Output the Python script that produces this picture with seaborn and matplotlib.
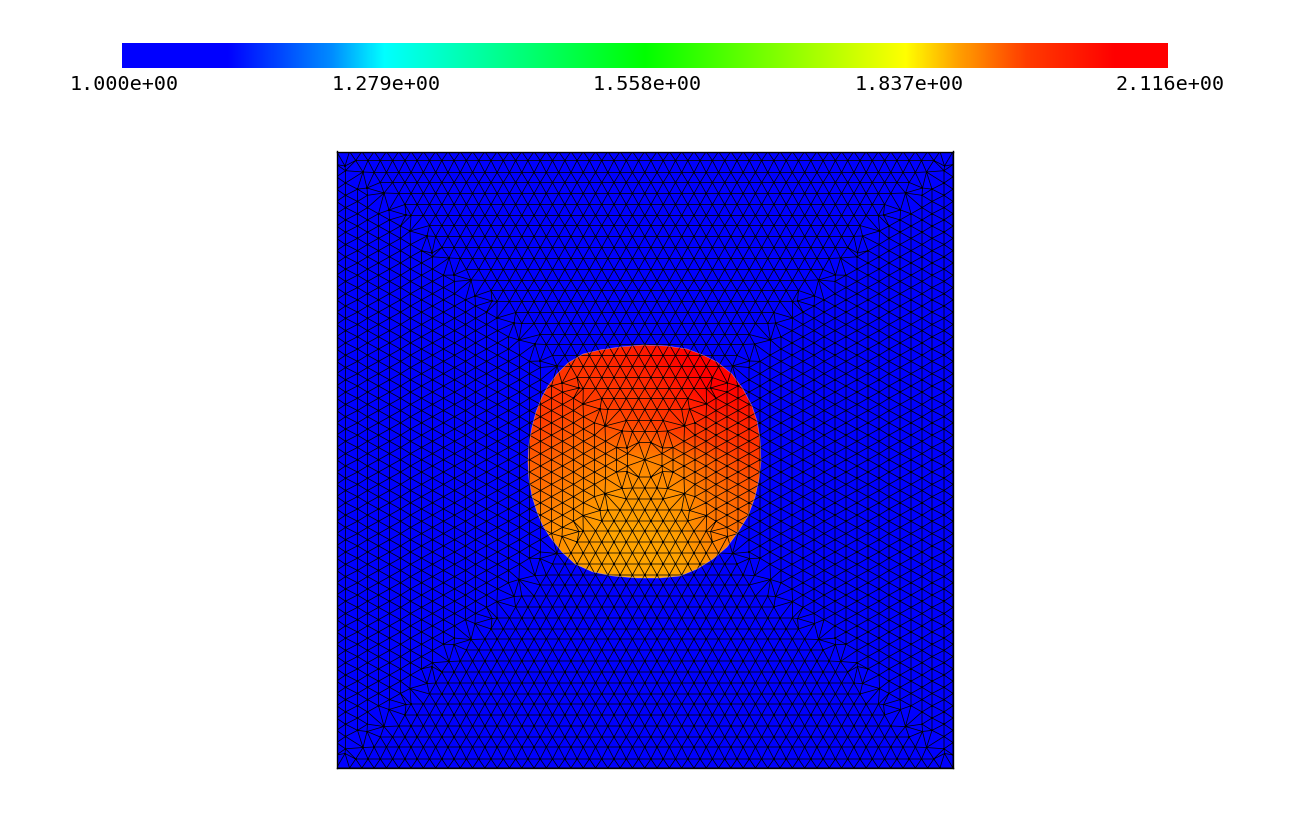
import numpy as np
import matplotlib
matplotlib.use("Agg")
import matplotlib.pyplot as plt
import matplotlib.tri as mtri
from matplotlib.colors import LinearSegmentedColormap, Normalize
from matplotlib.patches import Polygon
from matplotlib.transforms import ScaledTranslation
import seaborn as sns

# colorbar
tick_values = [1.000, 1.279, 1.558, 1.837, 2.116]
cmap_stops = [0, 0.1, 0.2, 0.25, 0.5, 0.75, 0.8, 0.865, 0.95, 1]
cmap_colors = ["#0000ff", "#0000ff", "#008cff", "#00ffff", "#00ff00",
               "#ffff00", "#ffa000", "#ff3c00", "#ff0000", "#ff0000"]

# everything on the mesh is read in picture pixels
square_x = [336.5, 953]
square_y = [152.5, 769]

# distance of each mesh ring from the outer edge
ring_offsets = [0, 9, 21, 31, 42, 53, 64, 74, 85, 96, 107, 118, 129, 139, 150,
                161, 172, 183, 193, 204, 215, 226, 237, 247, 258, 269, 280, 291]
node_spacing = 12.3

# outline of the inclusion
blob_x = [600, 583, 568, 557, 548, 542, 536, 532, 529, 528, 529, 532, 537, 543, 550, 562, 575,
          593, 613, 637, 660, 680, 697, 713, 727, 738, 748, 755, 759, 761, 760, 757, 752, 743,
          732, 717, 703, 687, 667, 643, 620]
blob_y = [351, 355, 364, 375, 387, 398, 413, 428, 445, 463, 480, 497, 513, 527, 538, 553, 565,
          573, 577, 579, 579, 577, 570, 560, 548, 533, 517, 498, 480, 462, 440, 422, 407, 390,
          375, 363, 356, 350, 347, 346, 348]

# field inside the inclusion, rows top to bottom
blob_field = [
    [1.98, 1.98, 2.00, 2.02, 2.05, 2.08, 2.09],
    [1.98, 1.97, 1.97, 1.98, 2.01, 2.05, 2.05],
    [1.96, 1.945, 1.95, 1.955, 1.97, 1.98, 2.00],
    [1.94, 1.925, 1.915, 1.91, 1.92, 1.94, 1.96],
    [1.925, 1.91, 1.90, 1.90, 1.905, 1.925, 1.94],
    [1.91, 1.90, 1.89, 1.89, 1.895, 1.92, 1.93],
    [1.91, 1.895, 1.89, 1.89, 1.89, 1.905, 1.925],
]

W, H = 1291, 820
sns.set_theme(style="white")
plt.rcParams["font.family"] = ["DejaVu Sans Mono"]

cmap = LinearSegmentedColormap.from_list("bar", list(zip(cmap_stops, cmap_colors)), N=1024)
norm = Normalize(tick_values[0], tick_values[-1])

fig = plt.figure(figsize=(W / 100, H / 100), dpi=100, facecolor="white")


def px_axes(x0, x1, y0, y1):
    return fig.add_axes([x0 / W, 1 - y1 / H, (x1 - x0) / W, (y1 - y0) / H])


# colorbar strip
ax_bar = px_axes(122, 1168, 43.5, 68.5)
strip = np.linspace(tick_values[0], tick_values[-1], 1046).reshape(1, -1)
sns.heatmap(strip, ax=ax_bar, cmap=cmap, norm=norm, cbar=False,
            xticklabels=False, yticklabels=False)
ax_bar.set_xticks([(v - tick_values[0]) / (tick_values[-1] - tick_values[0]) * 1046 for v in tick_values])
ax_bar.set_xticklabels(["%.3e" % v for v in tick_values], rotation=0, fontsize=14.5, color="black")
ax_bar.tick_params(axis="x", length=0, pad=5, bottom=True)
ax_bar.set_yticks([])
shift = ScaledTranslation(2.5 / 100, 0, fig.dpi_scale_trans)
for lab in ax_bar.get_xticklabels():
    lab.set_transform(lab.get_transform() + shift)

# mesh nodes, one hex lattice per side of each ring, corners rounded and zigzagged
cx = sum(square_x) / 2
cy = sum(square_y) / 2
half = (square_x[1] - square_x[0]) / 2
nodes = []
for k, off in enumerate(ring_offsets):
    h = half - off
    inset = 2.5 if k > 0 else 0
    wob = (3 if k % 2 else -3) if k > 0 else 0
    for sx, sy in [(-1, -1), (1, -1), (1, 1), (-1, 1)]:
        nodes.append((sx * (h - inset + wob), sy * (h - inset - wob)))
    n = int(h / node_spacing) + 1
    for i in range(-n, n + 1):
        t = (i + 0.5 * (k % 2)) * node_spacing
        if abs(t) > h - 0.75 * node_spacing:
            continue
        nodes += [(t, -h), (t, h), (-h, t), (h, t)]
nodes.append((0, 0))
nodes = np.array(nodes)
tri = mtri.Triangulation(nodes[:, 0] + cx, nodes[:, 1] + cy)

# main panel
ax = px_axes(square_x[0], square_x[1], square_y[0], square_y[1])
ax.set_facecolor(cmap(norm(tick_values[0])))
blob = Polygon(np.column_stack([blob_x, blob_y]), closed=True, transform=ax.transData,
               facecolor="none", edgecolor="none")
ax.add_patch(blob)
im = ax.imshow(blob_field, cmap=cmap, norm=norm, interpolation="bilinear",
               extent=[min(blob_x), max(blob_x), max(blob_y), min(blob_y)], aspect="auto")
im.set_clip_path(blob)
ax.plot(blob_x + blob_x[:1], blob_y + blob_y[:1], color="#f4e8e0", lw=0.4, alpha=0.5)
ax.triplot(tri, color="black", lw=0.55)
ax.set_xlim(square_x)
ax.set_ylim(square_y[1], square_y[0])
ax.set_xticks([])
ax.set_yticks([])
for s in ax.spines.values():
    s.set_visible(True)
    s.set_color("black")
    s.set_linewidth(1)

fig.savefig("out.png", dpi=100)
